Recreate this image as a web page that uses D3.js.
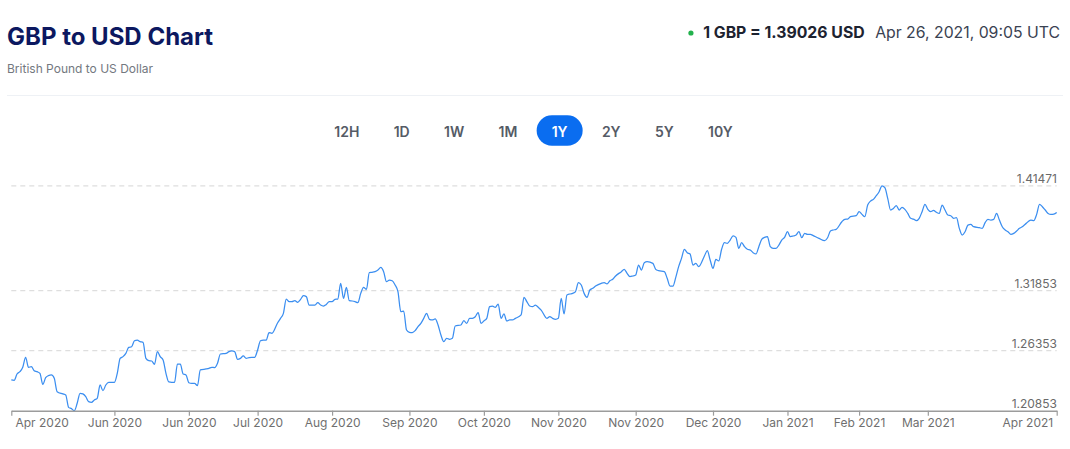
<!DOCTYPE html>
<html>
<head>
<meta charset="utf-8">
<script src="https://cdn.jsdelivr.net/npm/d3@7"></script>
<style>
  html, body { margin: 0; padding: 0; background: #fff; }
  svg { display: block; font-family: Inter, "Noto Sans", sans-serif; }
</style>
</head>
<body>
<svg id="chart" width="1070" height="449"></svg>
<script>
// ---------- data ----------
const dates = [
  "2020-04-26","2020-04-27","2020-04-28","2020-04-29","2020-04-30",
  "2020-05-01","2020-05-02","2020-05-03","2020-05-04","2020-05-05","2020-05-06","2020-05-07","2020-05-08","2020-05-09","2020-05-10","2020-05-11","2020-05-12","2020-05-14","2020-05-15","2020-05-16","2020-05-17","2020-05-18","2020-05-19","2020-05-20","2020-05-21","2020-05-22","2020-05-23","2020-05-24","2020-05-25","2020-05-26","2020-05-27","2020-05-28","2020-05-29","2020-05-30",
  "2020-06-01","2020-06-02","2020-06-03","2020-06-04","2020-06-05","2020-06-06","2020-06-07","2020-06-08","2020-06-09","2020-06-10","2020-06-11","2020-06-12","2020-06-13","2020-06-14","2020-06-15","2020-06-16","2020-06-17","2020-06-18","2020-06-19","2020-06-20","2020-06-21","2020-06-22","2020-06-23","2020-06-24","2020-06-25","2020-06-26","2020-06-27","2020-06-28","2020-06-29","2020-06-30",
  "2020-07-01","2020-07-03","2020-07-04","2020-07-05","2020-07-06","2020-07-07","2020-07-08","2020-07-10","2020-07-11","2020-07-12","2020-07-13","2020-07-14","2020-07-15","2020-07-16","2020-07-17","2020-07-18","2020-07-20","2020-07-21","2020-07-22","2020-07-23","2020-07-24","2020-07-25","2020-07-26","2020-07-28","2020-07-29","2020-07-30","2020-07-31",
  "2020-08-01","2020-08-02","2020-08-03","2020-08-04","2020-08-05","2020-08-06","2020-08-07","2020-08-08","2020-08-09","2020-08-10","2020-08-11","2020-08-12","2020-08-13","2020-08-14","2020-08-15","2020-08-16","2020-08-17","2020-08-18","2020-08-19","2020-08-20","2020-08-21","2020-08-22","2020-08-23","2020-08-24","2020-08-25","2020-08-26","2020-08-27","2020-08-28","2020-08-29","2020-08-30","2020-08-31",
  "2020-09-01","2020-09-02","2020-09-03","2020-09-04","2020-09-05","2020-09-06","2020-09-07","2020-09-08","2020-09-09","2020-09-10","2020-09-11","2020-09-12","2020-09-13","2020-09-14","2020-09-15","2020-09-16","2020-09-17","2020-09-18","2020-09-19","2020-09-20","2020-09-21","2020-09-22","2020-09-23","2020-09-24","2020-09-25","2020-09-26","2020-09-27","2020-09-28","2020-09-30",
  "2020-10-01","2020-10-02","2020-10-03","2020-10-04","2020-10-05","2020-10-06","2020-10-07","2020-10-08","2020-10-09","2020-10-10","2020-10-11","2020-10-12","2020-10-13","2020-10-14","2020-10-15","2020-10-16","2020-10-17","2020-10-18","2020-10-19","2020-10-21","2020-10-22","2020-10-23","2020-10-24","2020-10-25","2020-10-26","2020-10-27","2020-10-28","2020-10-30","2020-10-31",
  "2020-11-01","2020-11-02","2020-11-03","2020-11-04","2020-11-05","2020-11-06","2020-11-07","2020-11-08","2020-11-09","2020-11-10","2020-11-11","2020-11-12","2020-11-13","2020-11-14","2020-11-15","2020-11-16","2020-11-18","2020-11-19","2020-11-20","2020-11-21","2020-11-22","2020-11-23","2020-11-25","2020-11-26","2020-11-27","2020-11-28","2020-11-29","2020-11-30",
  "2020-12-01","2020-12-02","2020-12-03","2020-12-04","2020-12-06","2020-12-07","2020-12-08","2020-12-10","2020-12-11","2020-12-12","2020-12-13","2020-12-14","2020-12-15","2020-12-16","2020-12-17","2020-12-18","2020-12-19","2020-12-20","2020-12-21","2020-12-22","2020-12-24","2020-12-25","2020-12-26","2020-12-27","2020-12-28","2020-12-29","2020-12-30","2020-12-31",
  "2021-01-01","2021-01-02","2021-01-03","2021-01-04","2021-01-05","2021-01-06","2021-01-07","2021-01-08","2021-01-09","2021-01-10","2021-01-11","2021-01-12","2021-01-13","2021-01-14","2021-01-15","2021-01-16","2021-01-17","2021-01-18","2021-01-19","2021-01-20","2021-01-21","2021-01-22","2021-01-23","2021-01-24","2021-01-25","2021-01-26","2021-01-27","2021-01-28","2021-01-29","2021-01-30","2021-01-31",
  "2021-02-02","2021-02-04","2021-02-05","2021-02-06","2021-02-07","2021-02-08","2021-02-10","2021-02-11","2021-02-12","2021-02-13","2021-02-15","2021-02-16","2021-02-17","2021-02-18","2021-02-19","2021-02-20","2021-02-21","2021-02-22","2021-02-23","2021-02-24","2021-02-25","2021-02-26","2021-02-27","2021-02-28",
  "2021-03-01","2021-03-02","2021-03-03","2021-03-04","2021-03-05","2021-03-06","2021-03-07","2021-03-08","2021-03-09","2021-03-10","2021-03-11","2021-03-12","2021-03-13","2021-03-14","2021-03-15","2021-03-16","2021-03-17","2021-03-18","2021-03-19","2021-03-20","2021-03-21","2021-03-22","2021-03-23","2021-03-24","2021-03-25","2021-03-26","2021-03-27","2021-03-28","2021-03-30","2021-03-31",
  "2021-04-01","2021-04-02","2021-04-03","2021-04-04","2021-04-05","2021-04-06","2021-04-07","2021-04-08","2021-04-09","2021-04-10","2021-04-11","2021-04-12","2021-04-13","2021-04-14","2021-04-15","2021-04-16","2021-04-17","2021-04-18","2021-04-19","2021-04-20","2021-04-21","2021-04-22","2021-04-23","2021-04-24","2021-04-25","2021-04-26"
];

const rates = [
  1.2367,1.2364,1.2422,1.2443,1.2483,
  1.2575,1.2483,1.2489,1.2452,1.2443,1.2428,1.2327,1.2388,1.2407,1.2413,1.2382,1.2260,1.2239,1.2229,1.2116,1.2104,1.2085,1.2153,1.2245,1.2239,1.2214,1.2168,1.2162,1.2184,1.2199,1.2321,1.2269,1.2321,1.2346,
  1.2346,1.2428,1.2565,1.2581,1.2611,1.2666,1.2672,1.2727,1.2733,1.2718,1.2712,1.2565,1.2544,1.2541,1.2510,1.2627,1.2581,1.2550,1.2428,1.2349,1.2346,1.2346,1.2513,1.2513,1.2422,1.2413,1.2342,1.2336,1.2336,1.2315,
  1.2459,1.2468,1.2474,1.2483,1.2480,1.2520,1.2605,1.2611,1.2627,1.2633,1.2627,1.2556,1.2565,1.2587,1.2565,1.2572,1.2575,1.2642,1.2727,1.2733,1.2733,1.2801,1.2795,1.2892,1.2932,1.2978,1.3109,
  1.3085,1.3085,1.3094,1.3079,1.3106,1.3140,1.3131,1.3054,1.3054,1.3054,1.3076,1.3054,1.3045,1.3060,1.3085,1.3085,1.3106,1.3109,1.3253,1.3115,1.3216,1.3094,1.3091,1.3085,1.3076,1.3161,1.3216,1.3198,1.3351,1.3354,1.3360,
  1.3375,1.3399,1.3360,1.3268,1.3283,1.3277,1.3238,1.3176,1.2993,1.2999,1.2825,1.2804,1.2801,1.2819,1.2856,1.2886,1.2932,1.2978,1.2923,1.2917,1.2926,1.2871,1.2779,1.2718,1.2749,1.2740,1.2749,1.2862,1.2871,
  1.2911,1.2886,1.2932,1.2932,1.2947,1.2984,1.2886,1.2908,1.2932,1.3039,1.3045,1.3033,1.3063,1.2932,1.2972,1.2908,1.2917,1.2917,1.2932,1.2963,1.3125,1.3085,1.3045,1.3039,1.3054,1.3033,1.3008,1.2932,1.2947,
  1.2932,1.2923,1.2932,1.3115,1.2972,1.3146,1.3155,1.3161,1.3177,1.3259,1.3238,1.3161,1.3125,1.3192,1.3207,1.3228,1.3253,1.3259,1.3247,1.3277,1.3290,1.3320,1.3360,1.3381,1.3345,1.3314,1.3320,1.3329,
  1.3421,1.3375,1.3442,1.3451,1.3436,1.3381,1.3369,1.3360,1.3299,1.3228,1.3228,1.3308,1.3406,1.3482,1.3565,1.3534,1.3522,1.3421,1.3436,1.3406,1.3503,1.3552,1.3467,1.3390,1.3473,1.3458,1.3565,1.3626,
  1.3619,1.3650,1.3687,1.3674,1.3574,1.3626,1.3589,1.3565,1.3558,1.3534,1.3522,1.3589,1.3656,1.3674,1.3681,1.3589,1.3574,1.3574,1.3604,1.3650,1.3674,1.3726,1.3681,1.3687,1.3696,1.3726,1.3671,1.3711,1.3702,1.3702,1.3690,
  1.3665,1.3644,1.3671,1.3732,1.3742,1.3748,1.3818,1.3839,1.3842,1.3864,1.3873,1.3910,1.3885,1.3864,1.3971,1.4007,1.4023,1.4056,1.4093,1.4147,1.4130,1.4032,1.3925,1.3940,
  1.3965,1.3925,1.3949,1.3931,1.3894,1.3849,1.3842,1.3827,1.3849,1.3910,1.3977,1.3931,1.3910,1.3922,1.3904,1.3894,1.3971,1.3925,1.3879,1.3873,1.3849,1.3855,1.3757,1.3696,1.3726,1.3787,1.3794,1.3772,1.3763,1.3757,
  1.3809,1.3839,1.3833,1.3839,1.3894,1.3833,1.3772,1.3742,1.3726,1.3702,1.3711,1.3732,1.3757,1.3772,1.3794,1.3818,1.3833,1.3827,1.3885,1.3977,1.3955,1.3925,1.3894,1.3885,1.3888,1.3903
];

const tickDates = [
  "2020-04-26","2020-06-01","2020-06-27","2020-07-21","2020-08-16","2020-09-12","2020-10-08",
  "2020-11-03","2020-11-30","2020-12-27","2021-01-22","2021-02-16","2021-03-12","2021-04-26"
];
const gridValues = [1.41471, 1.31853, 1.26353, 1.20853];
const ranges = ["12H", "1D", "1W", "1M", "1Y", "2Y", "5Y", "10Y"];
const activeRange = "1Y";

const title = "GBP to USD Chart";
const subtitle = "British Pound to US Dollar";
const quote = "1 GBP = 1.39026 USD";
const stamp = "Apr 26, 2021, 09:05 UTC";

// ---------- setup ----------
const svg = d3.select("#chart");
const parse = d3.timeParse("%Y-%m-%d");
const points = dates.map((d, i) => ({ date: parse(d), value: rates[i] }));

// ---------- header ----------
svg.append("text")
  .attr("x", 7).attr("y", 45)
  .attr("fill", "#0c1860")
  .attr("font-size", 24).attr("font-weight", 700)
  .text(title);

svg.append("text")
  .attr("x", 7).attr("y", 73)
  .attr("fill", "#737880")
  .attr("font-size", 12)
  .text(subtitle);

svg.append("line")
  .attr("x1", 7).attr("x2", 1063)
  .attr("y1", 95.5).attr("y2", 95.5)
  .attr("stroke", "#eef1f5");

const stampText = svg.append("text")
  .attr("x", 1060).attr("y", 38)
  .attr("text-anchor", "end")
  .attr("fill", "#3a4252")
  .attr("font-size", 15.8)
  .text(stamp);
const stampW = stampText.node().getComputedTextLength();

const quoteText = svg.append("text")
  .attr("x", 1060 - stampW - 10.5).attr("y", 38)
  .attr("text-anchor", "end")
  .attr("fill", "#1d2330")
  .attr("font-size", 15.8).attr("font-weight", 700)
  .text(quote);
const quoteW = quoteText.node().getComputedTextLength();

svg.append("circle")
  .attr("cx", 1060 - stampW - 10.5 - quoteW - 12.3)
  .attr("cy", 33)
  .attr("r", 2.6)
  .attr("fill", "#22b14c");

// ---------- range buttons ----------
const btnPad = 15.1, btnGap = 4.1, btnCy = 130.5;
const btnG = svg.append("g");
const btns = ranges.map(r => {
  const t = btnG.append("text")
    .attr("font-size", 14).attr("font-weight", 600)
    .attr("text-anchor", "middle")
    .attr("dominant-baseline", "central")
    .text(r);
  return { r, t, w: t.node().getComputedTextLength() + btnPad * 2 };
});
const rowW = d3.sum(btns, b => b.w) + btnGap * (btns.length - 1);
let bx = 533.5 - rowW / 2;
for (const b of btns) {
  const cx = bx + b.w / 2;
  if (b.r === activeRange) {
    btnG.insert("rect", "text")
      .attr("x", cx - 23).attr("y", btnCy - 15.3)
      .attr("width", 46).attr("height", 30.6)
      .attr("rx", 15.3)
      .attr("fill", "#0a6df0");
  }
  b.t.attr("x", cx).attr("y", btnCy + 0.5)
    .attr("fill", b.r === activeRange ? "#fff" : "#555b66");
  bx += b.w + btnGap;
}

// ---------- chart ----------
const x = d3.scaleTime()
  .domain(d3.extent(points, d => d.date))
  .range([11.3, 1056.7]);

const y = d3.scaleLinear()
  .domain([1.20853, 1.41471])
  .range([410.7, 185.8]);

// dashed grid + value labels on the right
svg.append("g")
  .selectAll("line")
  .data(gridValues.slice(0, 3))
  .join("line")
  .attr("x1", 11.3).attr("x2", 1056.7)
  .attr("y1", d => y(d)).attr("y2", d => y(d))
  .attr("stroke", "#dedede")
  .attr("stroke-width", 1.3)
  .attr("stroke-dasharray", "5,4");

svg.append("g")
  .selectAll("text")
  .data(gridValues)
  .join("text")
  .attr("x", 1057)
  .attr("y", d => y(d) - 3)
  .attr("text-anchor", "end")
  .attr("fill", "#6a6a6a")
  .attr("font-size", 12)
  .text(d => d3.format(".5f")(d));

// line
const line = d3.line()
  .x(d => x(d.date))
  .y(d => y(d.value))
  .curve(d3.curveMonotoneX);

svg.append("path")
  .datum(points)
  .attr("fill", "none")
  .attr("stroke", "#3b8ef0")
  .attr("stroke-width", 1.25)
  .attr("stroke-linejoin", "round")
  .attr("d", line);

// x axis
const ticks = tickDates.map(parse);
const xAxis = d3.axisBottom(x)
  .tickValues(ticks)
  .tickFormat(d3.timeFormat("%b %Y"))
  .tickSize(5)
  .tickSizeOuter(0);

const gx = svg.append("g")
  .attr("transform", "translate(0,410.7)")
  .call(xAxis);

gx.select(".domain").attr("stroke", "#9c9c9c").attr("stroke-width", 1.6);
gx.selectAll(".tick line").attr("stroke", "#9c9c9c").attr("stroke-width", 1.2);
gx.selectAll(".tick text")
  .attr("y", 16.3).attr("dy", 0)
  .attr("fill", "#6f6f6f")
  .attr("font-size", 12)
  .attr("font-family", "Inter, 'Noto Sans', sans-serif");

const last = ticks.length - 1;
gx.selectAll(".tick text")
  .filter((d, i) => i === 0)
  .attr("text-anchor", "start").attr("dx", 3.7);
gx.selectAll(".tick text")
  .filter((d, i) => i === last)
  .attr("text-anchor", "end").attr("dx", -4);
</script>
</body>
</html>
